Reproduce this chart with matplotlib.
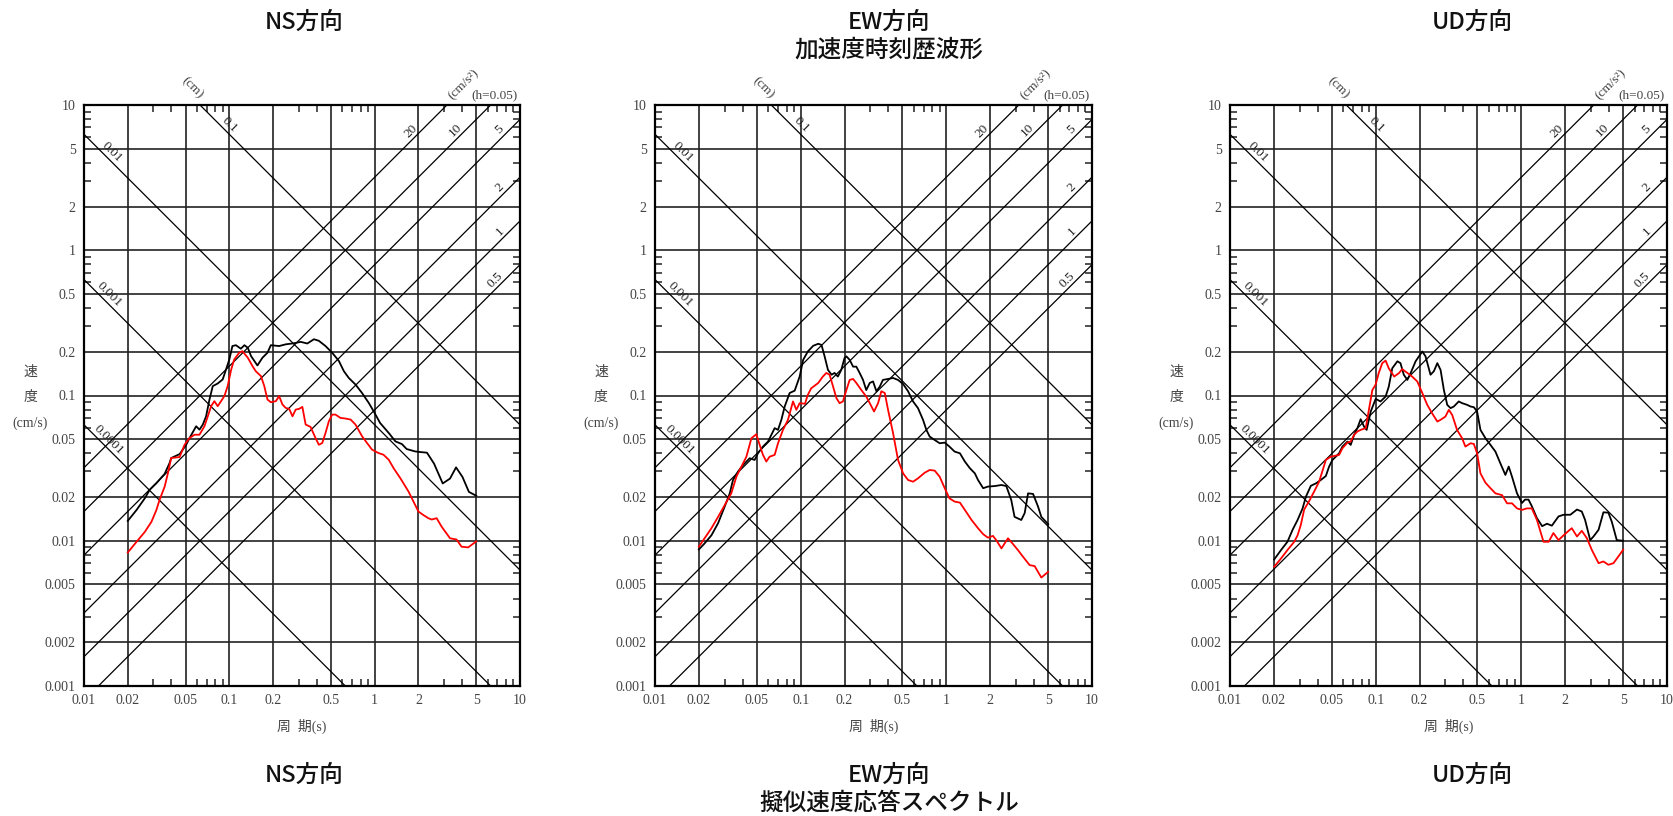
import numpy as np
import matplotlib
matplotlib.use("Agg")
import matplotlib.pyplot as plt
import matplotlib.ticker as mticker

plt.rcParams['font.family'] = ['Liberation Serif', 'Noto Sans CJK JP']

# ---------------- data (period s / pseudo velocity cm/s) ----------------
ns_blk_T = [0.020, 0.023, 0.0262, 0.0283, 0.0315, 0.0359, 0.0388, 0.0398, 0.0455, 0.0505,
            0.0532, 0.0591, 0.0623, 0.0657, 0.0692, 0.0730, 0.0769, 0.0832, 0.0900, 0.0949,
            0.100, 0.105, 0.111, 0.120, 0.127, 0.134, 0.141, 0.156, 0.169, 0.183,
            0.193, 0.220, 0.244, 0.279, 0.310, 0.344, 0.382, 0.413, 0.459, 0.510,
            0.567, 0.614, 0.664, 0.738, 0.819, 0.910, 0.984, 1.09, 1.25, 1.39,
            1.54, 1.66, 1.90, 2.06, 2.29, 2.56, 2.94, 3.30, 3.63, 4.02,
            4.45, 5.0]
ns_blk_v = [0.0137, 0.0163, 0.0196, 0.0224, 0.0249, 0.0289, 0.0343, 0.0371, 0.0395, 0.0458,
            0.0509, 0.0614, 0.0582, 0.0631, 0.0719, 0.0938, 0.116, 0.121, 0.129, 0.151,
            0.177, 0.219, 0.222, 0.210, 0.222, 0.213, 0.187, 0.161, 0.182, 0.197,
            0.222, 0.219, 0.225, 0.229, 0.234, 0.228, 0.244, 0.238, 0.219, 0.197,
            0.173, 0.147, 0.132, 0.119, 0.104, 0.0890, 0.0779, 0.0647, 0.0552, 0.0483,
            0.0463, 0.0428, 0.0412, 0.0408, 0.0404, 0.034, 0.0248, 0.0268, 0.032, 0.0275,
            0.0217, 0.0204]
ns_red_T = [0.020, 0.023, 0.0262, 0.0291, 0.0315, 0.0331, 0.0359, 0.0378, 0.0398, 0.0455,
            0.0492, 0.0532, 0.0576, 0.0623, 0.0674, 0.0711, 0.0749, 0.0789, 0.0832, 0.0877,
            0.0924, 0.0974, 0.103, 0.108, 0.117, 0.123, 0.134, 0.144, 0.152, 0.165,
            0.174, 0.183, 0.193, 0.209, 0.220, 0.232, 0.244, 0.258, 0.272, 0.286,
            0.302, 0.318, 0.335, 0.362, 0.392, 0.413, 0.436, 0.459, 0.484, 0.510,
            0.537, 0.582, 0.630, 0.683, 0.738, 0.819, 0.886, 0.959, 1.06, 1.15,
            1.25, 1.35, 1.50, 1.71, 1.85, 2.00, 2.17, 2.34, 2.47, 2.67,
            2.89, 3.30, 3.66, 3.96, 4.40, 5.0]
ns_red_v = [0.0083, 0.00984, 0.0115, 0.0135, 0.0163, 0.0191, 0.0236, 0.0292, 0.0371, 0.0377,
            0.0458, 0.0509, 0.0537, 0.0537, 0.0614, 0.0719, 0.0844, 0.0914, 0.0844, 0.0914,
            0.0990, 0.116, 0.151, 0.177, 0.197, 0.202, 0.182, 0.160, 0.147, 0.136,
            0.116, 0.0938, 0.0899, 0.0914, 0.099, 0.0867, 0.0822, 0.0809, 0.0719, 0.080,
            0.0809, 0.0835, 0.0631, 0.0608, 0.0509, 0.0458, 0.0471, 0.0552, 0.0665, 0.0739,
            0.0739, 0.0701, 0.0694, 0.0683, 0.0631, 0.0524, 0.0471, 0.0424, 0.0402, 0.0391,
            0.0361, 0.0316, 0.0270, 0.0218, 0.0186, 0.0159, 0.0150, 0.0143, 0.0140, 0.0143,
            0.0125, 0.0104, 0.0102, 0.0091, 0.0090, 0.0099]

ew_blk_T = [0.0200, 0.0219, 0.0244, 0.0271, 0.0301, 0.0326, 0.0343, 0.0371, 0.0402, 0.0447,
            0.0483, 0.0509, 0.0551, 0.0597, 0.0663, 0.0699, 0.0737, 0.0777, 0.0840, 0.0910,
            0.0984, 0.104, 0.112, 0.122, 0.132, 0.139, 0.146, 0.154, 0.163, 0.171,
            0.180, 0.190, 0.200, 0.206, 0.217, 0.229, 0.241, 0.254, 0.268, 0.282,
            0.298, 0.314, 0.331, 0.349, 0.367, 0.398, 0.431, 0.466, 0.505, 0.546,
            0.591, 0.639, 0.692, 0.729, 0.769, 0.832, 0.900, 0.975, 1.05, 1.14,
            1.24, 1.34, 1.45, 1.57, 1.65, 1.79, 1.93, 2.15, 2.39, 2.58,
            2.79, 2.94, 3.27, 3.45, 3.64, 3.94, 4.26, 4.49, 5.0]
ew_blk_v = [0.00871, 0.00959, 0.0109, 0.0132, 0.0172, 0.0212, 0.0262, 0.0299, 0.0332, 0.0370,
            0.0360, 0.0400, 0.0445, 0.0482, 0.0596, 0.0580, 0.0680, 0.0840, 0.104, 0.108,
            0.135, 0.176, 0.201, 0.220, 0.227, 0.223, 0.186, 0.150, 0.139, 0.143,
            0.135, 0.150, 0.181, 0.186, 0.176, 0.158, 0.158, 0.143, 0.128, 0.109,
            0.122, 0.125, 0.107, 0.115, 0.128, 0.130, 0.132, 0.128, 0.120, 0.107,
            0.0910, 0.0818, 0.0680, 0.0580, 0.0521, 0.0494, 0.0469, 0.0474, 0.0445, 0.0411,
            0.0400, 0.0351, 0.0316, 0.0291, 0.0262, 0.0230, 0.0236, 0.0238, 0.0242, 0.0238,
            0.0191, 0.0146, 0.0139, 0.0155, 0.0212, 0.0210, 0.0172, 0.0146, 0.0130]
ew_red_T = [0.0200, 0.0219, 0.0244, 0.0271, 0.0301, 0.0334, 0.0362, 0.0392, 0.0424, 0.0459,
            0.0496, 0.0523, 0.0551, 0.0581, 0.0612, 0.0663, 0.0699, 0.0756, 0.0818, 0.0886,
            0.0934, 0.0984, 0.107, 0.112, 0.118, 0.132, 0.142, 0.150, 0.158, 0.167,
            0.176, 0.185, 0.195, 0.206, 0.217, 0.229, 0.241, 0.261, 0.282, 0.298,
            0.319, 0.340, 0.358, 0.378, 0.398, 0.431, 0.466, 0.505, 0.546, 0.591,
            0.639, 0.710, 0.769, 0.832, 0.900, 0.975, 1.05, 1.14, 1.24, 1.34,
            1.49, 1.65, 1.79, 1.93, 2.09, 2.20, 2.39, 2.65, 2.87, 3.10,
            3.36, 3.73, 4.04, 4.49, 5.0]
ew_red_v = [0.0091, 0.0104, 0.0122, 0.0146, 0.0176, 0.0212, 0.0276, 0.0324, 0.0379, 0.0508,
            0.0541, 0.0457, 0.0390, 0.0351, 0.0379, 0.0390, 0.0469, 0.0580, 0.0680, 0.0910,
            0.0797, 0.0886, 0.0877, 0.101, 0.112, 0.122, 0.135, 0.143, 0.139, 0.115,
            0.0959, 0.0886, 0.0910, 0.109, 0.128, 0.130, 0.122, 0.109, 0.0984, 0.0886,
            0.0776, 0.0886, 0.107, 0.104, 0.0797, 0.0550, 0.0360, 0.0291, 0.0262, 0.0255,
            0.0269, 0.0294, 0.0307, 0.0304, 0.0276, 0.0230, 0.0196, 0.0186, 0.0183, 0.0163,
            0.0139, 0.0122, 0.0111, 0.0105, 0.0108, 0.0101, 0.00886, 0.0104, 0.00948, 0.00863,
            0.00776, 0.00680, 0.00669, 0.00558, 0.00611]

ud_blk_T = [0.0201, 0.0224, 0.0248, 0.0269, 0.0291, 0.0315, 0.0332, 0.0359, 0.0388, 0.0420,
            0.0455, 0.0479, 0.0505, 0.0532, 0.0561, 0.0591, 0.0640, 0.0674, 0.0711, 0.0749,
            0.0789, 0.0832, 0.0867, 0.0925, 0.100, 0.108, 0.117, 0.123, 0.130, 0.141,
            0.148, 0.156, 0.165, 0.174, 0.188, 0.209, 0.220, 0.238, 0.251, 0.265,
            0.279, 0.294, 0.310, 0.327, 0.344, 0.372, 0.392, 0.425, 0.448, 0.472,
            0.497, 0.524, 0.567, 0.614, 0.664, 0.718, 0.777, 0.819, 0.863, 0.934,
            1.01, 1.06, 1.12, 1.18, 1.28, 1.39, 1.50, 1.62, 1.80, 1.95,
            2.17, 2.41, 2.60, 2.74, 2.97, 3.13, 3.39, 3.66, 3.96, 4.18,
            4.52, 5.0]
ud_blk_v = [0.00743, 0.00863, 0.00984, 0.0119, 0.0139, 0.0167, 0.0201, 0.0239, 0.0248, 0.0262,
            0.0279, 0.0324, 0.0360, 0.0379, 0.0400, 0.0445, 0.0482, 0.0457, 0.0536, 0.0596,
            0.0687, 0.0611, 0.0580, 0.0776, 0.0948, 0.0910, 0.0984, 0.115, 0.154, 0.172,
            0.167, 0.139, 0.128, 0.143, 0.172, 0.201, 0.186, 0.139, 0.147, 0.167,
            0.150, 0.109, 0.0862, 0.0818, 0.0840, 0.0910, 0.0886, 0.0862, 0.0840, 0.0831,
            0.0776, 0.0580, 0.0508, 0.0457, 0.0411, 0.0341, 0.0284, 0.0324, 0.0276, 0.0212,
            0.0182, 0.0192, 0.0192, 0.0173, 0.0143, 0.0126, 0.0131, 0.0127, 0.0147, 0.0151,
            0.0151, 0.0164, 0.0159, 0.0139, 0.0101, 0.0107, 0.0119, 0.0157, 0.0156, 0.0135,
            0.0101, 0.0100]
ud_red_T = [0.0201, 0.0224, 0.0248, 0.0276, 0.0291, 0.0306, 0.0323, 0.0349, 0.0378, 0.0409,
            0.0455, 0.0492, 0.0561, 0.0591, 0.0640, 0.0674, 0.0711, 0.0749, 0.0789, 0.0855,
            0.0886, 0.0949, 0.100, 0.105, 0.111, 0.117, 0.123, 0.134, 0.145, 0.152,
            0.165, 0.178, 0.193, 0.209, 0.226, 0.244, 0.265, 0.279, 0.301, 0.318,
            0.335, 0.362, 0.392, 0.413, 0.448, 0.472, 0.497, 0.524, 0.567, 0.614,
            0.664, 0.738, 0.798, 0.863, 0.934, 1.01, 1.09, 1.18, 1.28, 1.42,
            1.54, 1.66, 1.80, 1.95, 2.11, 2.22, 2.41, 2.60, 2.82, 3.05,
            3.39, 3.66, 3.96, 4.29, 4.64, 5.0]
ud_red_v = [0.00662, 0.00755, 0.00863, 0.00984, 0.0109, 0.0128, 0.0164, 0.0187, 0.0218, 0.0255,
            0.0360, 0.0379, 0.0390, 0.0433, 0.0474, 0.0482, 0.0536, 0.0565, 0.0580, 0.0596,
            0.0736, 0.109, 0.119, 0.143, 0.167, 0.174, 0.154, 0.135, 0.143, 0.152,
            0.143, 0.135, 0.125, 0.104, 0.0862, 0.0755, 0.0662, 0.0680, 0.0716, 0.0797,
            0.0736, 0.0580, 0.0508, 0.0445, 0.0469, 0.0464, 0.0400, 0.0291, 0.0251, 0.0230,
            0.0212, 0.0206, 0.0181, 0.0181, 0.0167, 0.0163, 0.0167, 0.0167, 0.0139, 0.00984,
            0.00984, 0.0113, 0.0101, 0.0109, 0.0117, 0.0122, 0.0107, 0.0117, 0.0104, 0.00863,
            0.00701, 0.00720, 0.00683, 0.00701, 0.00780, 0.00867]

directions = ['NS方向', 'EW方向', 'UD方向']
top_title = '加速度時刻歴波形'
bottom_title = '擬似速度応答スペクトル'

x_ticks = [0.01, 0.02, 0.05, 0.1, 0.2, 0.5, 1, 2, 5, 10]
y_ticks = [0.001, 0.002, 0.005, 0.01, 0.02, 0.05, 0.1, 0.2, 0.5, 1, 2, 5, 10]
disp_lines = [0.1, 0.01, 0.001, 0.0001]      # cm
acc_lines = [20, 10, 5, 2, 1, 0.5]            # cm/s^2
disp_label_T = [0.0935, 0.0144, 0.0137, 0.0137]
acc_label_T = [1.91, 3.87, 7.83, 7.83, 7.83, 7.26]

series = [(ns_blk_T, ns_blk_v, ns_red_T, ns_red_v),
          (ew_blk_T, ew_blk_v, ew_red_T, ew_red_v),
          (ud_blk_T, ud_blk_v, ud_red_T, ud_red_v)]

# ---------------- figure ----------------
W, H = 1673, 816
fig = plt.figure(figsize=(W / 100, H / 100), dpi=100)

# axes boxes in pixels: left, right, top, bottom
boxes = [(84, 520, 105, 686), (655, 1092, 105, 686), (1230, 1667, 105, 686)]
title_x = [304, 889, 1472]
cjk = ['Noto Sans CJK JP', 'DejaVu Sans']
grey = '#444444'
tfs = 17

for i, (l, r, t, b) in enumerate(boxes):
    ax = fig.add_axes([l / W, 1 - b / H, (r - l) / W, (b - t) / H])
    ax.set_xscale('log')
    ax.set_yscale('log')
    ax.set_xlim(0.01, 10)
    ax.set_ylim(0.001, 10)

    ax.xaxis.set_major_locator(mticker.FixedLocator(x_ticks))
    ax.yaxis.set_major_locator(mticker.FixedLocator(y_ticks))
    ax.xaxis.set_major_formatter(mticker.FixedFormatter([f'{v:g}' for v in x_ticks]))
    ax.yaxis.set_major_formatter(mticker.FixedFormatter([f'{v:g}' for v in y_ticks]))
    ax.xaxis.set_minor_locator(mticker.LogLocator(base=10, subs=(3, 4, 6, 7, 8, 9)))
    ax.yaxis.set_minor_locator(mticker.LogLocator(base=10, subs=(3, 4, 6, 7, 8, 9)))
    ax.xaxis.set_minor_formatter(mticker.NullFormatter())
    ax.yaxis.set_minor_formatter(mticker.NullFormatter())
    ax.tick_params(which='major', length=0, labelsize=10, labelcolor=grey, pad=6)
    ax.tick_params(which='minor', direction='in', length=5, width=1.1,
                   top=True, right=True, color='#222222')
    for s in ax.spines.values():
        s.set_linewidth(1.6)
        s.set_color('black')

    # grid
    for xv in x_ticks[1:-1]:
        ax.axvline(xv, color='#333333', lw=1.3, zorder=1)
    for yv in y_ticks[1:-1]:
        ax.axhline(yv, color='#222222', lw=1.2, zorder=1)

    # tripartite lines
    Tg = np.logspace(-2, 1, 200)
    for D in disp_lines:
        ax.plot(Tg, 2 * np.pi * D / Tg, color='black', lw=0.9, zorder=2)
    for A in acc_lines:
        ax.plot(Tg, A * Tg / (2 * np.pi), color='black', lw=0.9, zorder=2)

    wpx, hpx = r - l, b - t
    ang = np.degrees(np.arctan((hpx / 4) / (wpx / 3)))
    th = np.radians(ang)
    d = 7
    for D, Tl in zip(disp_lines, disp_label_T):
        ax.annotate(f'{D:g}', xy=(Tl, 2 * np.pi * D / Tl),
                    xytext=(d * np.sin(th), d * np.cos(th)), textcoords='offset pixels',
                    rotation=-ang, rotation_mode='anchor', ha='center', va='center',
                    fontsize=9.5, color='#222222', zorder=3)
    for A, Tl in zip(acc_lines, acc_label_T):
        ax.annotate(f'{A:g}', xy=(Tl, A * Tl / (2 * np.pi)),
                    xytext=(-d * np.sin(th), d * np.cos(th)), textcoords='offset pixels',
                    rotation=ang, rotation_mode='anchor', ha='center', va='center',
                    fontsize=9.5, color='#222222', zorder=3)

    ax.text(0.248, 1.03, '(cm)', transform=ax.transAxes, rotation=-ang,
            ha='center', va='center', fontsize=9.5, color=grey)
    ax.text(0.872, 1.036, '(cm/s²)', transform=ax.transAxes, rotation=ang,
            ha='center', va='center', fontsize=9.5, color=grey)
    ax.text(0.995, 1.016, '(h=0.05)', transform=ax.transAxes,
            ha='right', va='center', fontsize=9.5, color=grey)

    # curves
    bT, bv, rT, rv = series[i]
    ax.plot(bT, bv, color='black', lw=1.3, zorder=4)
    ax.plot(rT, rv, color='#ff0000', lw=1.3, zorder=5)

    # axis labels
    ytr = ax.get_yaxis_transform()
    for txt, yv in [('速', 0.145), ('度', 0.097), ('(cm/s)', 0.064)]:
        ax.annotate(txt, xy=(0, yv), xycoords=ytr, xytext=(-54, 0),
                    textcoords='offset pixels', ha='center', va='center',
                    fontsize=10, color=grey)
    ax.annotate('周  期(s)', xy=(0.5, 0), xycoords='axes fraction', xytext=(0, -40),
                textcoords='offset pixels', ha='center', va='center',
                fontsize=10, color=grey)

    # titles
    fig.text(title_x[i] / W, 1 - 22 / H, directions[i], ha='center', va='center',
             fontsize=tfs, family=cjk, weight='medium', color='#111111')
    fig.text(title_x[i] / W, 1 - 775 / H, directions[i], ha='center', va='center',
             fontsize=tfs, family=cjk, weight='medium', color='#111111')

fig.text(title_x[1] / W, 1 - 50 / H, top_title, ha='center', va='center',
         fontsize=tfs, family=cjk, weight='medium', color='#111111')
fig.text(title_x[1] / W, 1 - 803 / H, bottom_title, ha='center', va='center',
         fontsize=tfs, family=cjk, weight='medium', color='#111111')

fig.savefig('out.png', dpi=100)
